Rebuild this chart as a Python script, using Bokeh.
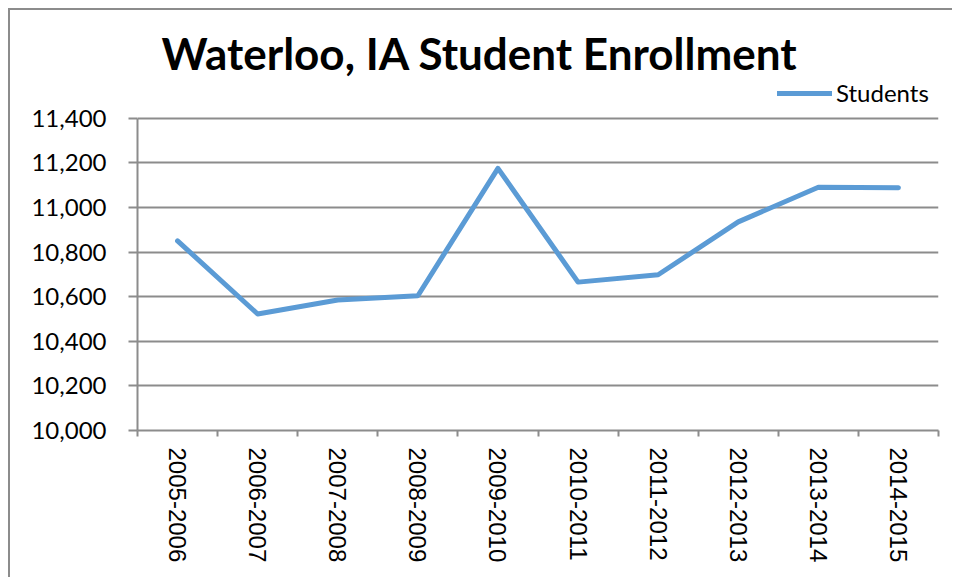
import math
from bokeh.plotting import figure
from bokeh.models import (Range1d, FixedTicker, NumeralTickFormatter, Legend, LegendItem,
                          Title, ColumnDataSource)
from bokeh.embed import file_html
from bokeh.resources import INLINE

categories = ["2005-2006", "2006-2007", "2007-2008", "2008-2009", "2009-2010",
              "2010-2011", "2011-2012", "2012-2013", "2013-2014", "2014-2015"]
students = [10850, 10522, 10585, 10604, 11175, 10665, 10698, 10935, 11090, 11088]
y_ticks = [10000, 10200, 10400, 10600, 10800, 11000, 11200, 11400]
title_text = "Waterloo, IA Student Enrollment"
series_name = "Students"

GRAY = "#8c8c8c"
BLUE = "#5B9BD5"

n = len(categories)
centers = [i + 0.5 for i in range(n)]
src = ColumnDataSource(data=dict(x=centers, cat=categories, students=students))

# the frame reaches one grid step above the last tick to host the legend
y_top = y_ticks[-1] + (y_ticks[1] - y_ticks[0])

p = figure(width=944, height=569,
           x_range=Range1d(0, n),
           y_range=Range1d(y_ticks[0], y_top),
           output_backend="svg", toolbar_location=None,
           min_border_left=127, min_border_right=16,
           min_border_top=63, min_border_bottom=149)
p.outline_line_color = None
p.background_fill_color = "white"
p.border_fill_color = "white"
p.styles = {"border-left": f"2px solid {GRAY}", "border-top": f"2px solid {GRAY}",
            "margin-left": "8px", "margin-top": "8px"}

# y axis
yax = p.yaxis[0]
yax.ticker = FixedTicker(ticks=y_ticks)
yax.bounds = (y_ticks[0], y_ticks[-1])
yax.formatter = NumeralTickFormatter(format="0,0")
yax.major_tick_in = 0
yax.major_tick_out = 9
yax.minor_tick_line_color = None
yax.major_tick_line_color = GRAY
yax.major_tick_line_width = 2
yax.axis_line_color = GRAY
yax.axis_line_width = 2
yax.major_label_text_font = "Lato"
yax.major_label_text_font_size = "24px"
yax.major_label_text_color = "black"
yax.major_label_standoff = 22

p.ygrid.ticker = FixedTicker(ticks=y_ticks)
p.ygrid.grid_line_color = GRAY
p.ygrid.grid_line_width = 2
p.xgrid.visible = False

# x axis: labels at category centres, tick marks at category boundaries
xax = p.xaxis[0]
xax.ticker = FixedTicker(ticks=centers, minor_ticks=list(range(n + 1)))
xax.major_label_overrides = {c: lab for c, lab in zip(centers, categories)}
xax.major_tick_line_color = None
xax.minor_tick_in = 0
xax.minor_tick_out = 6
xax.minor_tick_line_color = GRAY
xax.minor_tick_line_width = 2
xax.axis_line_color = GRAY
xax.axis_line_width = 2
xax.major_label_orientation = -math.pi / 2
xax.major_label_text_font = "Liberation Sans"
xax.major_label_text_font_size = "24px"
xax.major_label_text_color = "black"
xax.major_label_standoff = 11

r = p.line(x="x", y="students", source=src, line_color=BLUE, line_width=5,
           line_cap="round", line_join="round")

legend = Legend(items=[LegendItem(label=series_name, renderers=[r])],
                location=(640, 323), border_line_color=None,
                background_fill_alpha=0, padding=0, margin=0, spacing=0,
                glyph_width=55, glyph_height=20, label_standoff=4,
                label_text_font="Lato", label_text_font_size="24px",
                label_text_color="black")
p.add_layout(legend)

p.add_layout(Title(text=title_text, text_font="Lato", text_font_size="44px",
                   text_font_style="bold", text_color="black",
                   align="left", offset=24, standoff=-11), "above")

open("out.html", "w").write(file_html(p, INLINE))
